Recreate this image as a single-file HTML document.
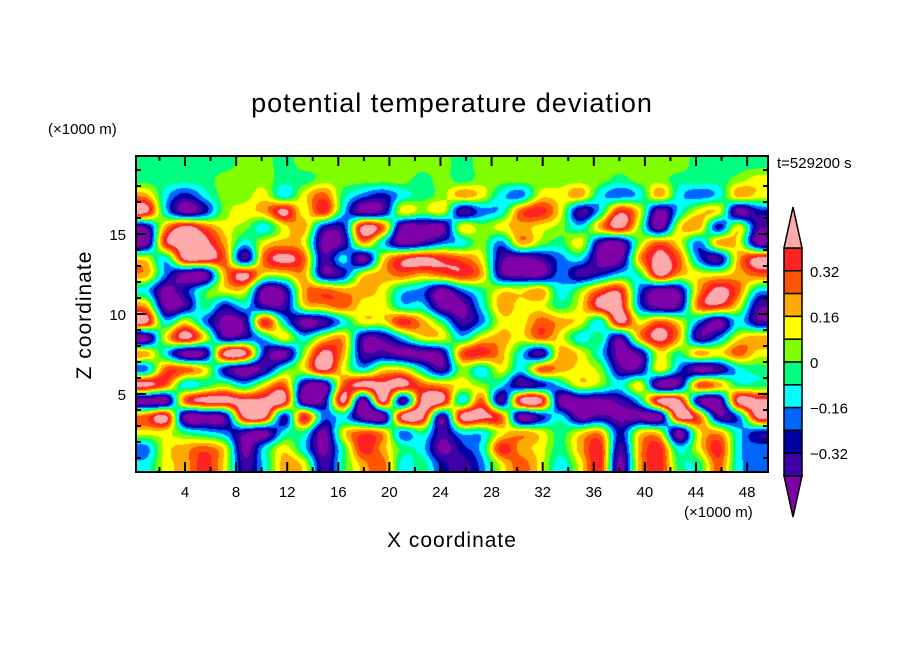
<!DOCTYPE html>
<html><head><meta charset="utf-8"><style>
html,body{margin:0;padding:0;background:#fff;}
#wrap{position:relative;width:904px;height:654px;overflow:hidden;font-family:"Liberation Sans","DejaVu Sans",sans-serif;}
svg text{font-family:"Liberation Sans","DejaVu Sans",sans-serif;}
</style></head><body>
<div id="wrap">
<canvas id="field" width="632" height="316" style="position:absolute;left:136px;top:156px;"></canvas>
<svg id="ov" width="904" height="654" style="position:absolute;left:0;top:0;"></svg>
</div>
<script>
// grid values: integer bin codes k, theta' = (k-0.5)*0.08 ; rows from top (z high) to bottom
const gridRows = [
[0,0,0,0,0,1,1,0,1,1,1,1,1,1,1,1, 0,1,1,1,1,1,1,1,1,1,1,1,0,0,0,0],
[0,0,0,0,1,1,1,0,0,1,1,1,1,1,0,1, 0,1,1,1,1,1,1,1,0,1,1,0,0,0,1,2],
[3,-1,-3,-1,1,1,2,-1,2,4,0,-2,-3,-1,0,1, 3,2,-1,-2,2,2,3,-1,-2,-1,3,-1,-2,-1,3,2],
[6,-1,-5,-3,1,2,3,6,2,5,-1,-5,-4,2,1,2, -4,-2,-1,4,5,2,-4,-1,5,2,-5,-1,2,2,-5,-3],
[-4,3,6,4,2,1,-1,2,3,-3,-3,6,4,-5,-5,-5, 2,1,2,3,2,1,-1,3,6,1,-5,2,3,-3,2,-4],
[-5,5,6,6,3,-1,2,3,2,-5,-4,3,-1,-5,-4,-2, -1,1,-2,3,1,0,2,-4,-5,1,4,2,-2,3,2,-5],
[2,-1,6,6,4,-4,4,6,4,-4,-1,-5,2,5,6,5, 4,2,-4,-5,-4,-2,-1,-5,-5,3,6,4,-2,-4,3,6],
[3,-2,-5,-5,3,6,2,2,3,-4,-3,2,3,4,3,4, 5,3,-4,-5,-5,-2,-4,-3,-1,0,6,3,2,2,3,4],
[-1,-5,-3,0,2,2,-5,-4,3,4,3,3,2,-1,-2,-5, -2,0,2,2,3,-1,1,4,5,-2,-5,-4,3,6,4,-1],
[3,-5,-4,0,-3,-1,-4,-4,2,3,4,2,2,-1,-1,-5, -5,-1,3,2,2,0,2,6,6,-2,-5,-4,4,5,2,-4],
[6,-1,2,-2,-5,-4,5,-1,-5,-4,-1,2,2,5,3,0, -4,-2,2,2,4,3,2,-1,6,2,4,2,-2,-5,-1,-4],
[-5,2,6,2,-4,-3,-1,2,-1,2,3,-4,-4,-1,2,2, -1,2,3,2,4,2,-1,0,-4,3,6,3,-4,-2,2,3],
[3,-1,-5,-4,6,6,-3,-5,1,6,3,-4,-4,-5,-5,-4, 4,5,3,-1,-4,3,2,-1,-5,-4,2,0,3,2,4,2],
[-2,4,4,2,-3,-5,-4,0,2,6,2,-1,2,2,-1,-4, 1,-1,2,-1,4,3,2,1,-4,-4,2,-2,-5,-4,-1,0],
[6,4,-1,0,1,-1,2,4,-4,-5,4,6,6,6,4,3, 2,1,-1,-4,-3,-1,2,1,-1,2,-5,-4,4,3,0,0],
[-5,-5,4,6,6,6,6,6,-5,-4,6,-5,6,-4,6,6, -1,4,-4,6,6,-5,-5,-5,-4,-1,6,6,-4,-5,6,6],
[4,6,-5,-5,-4,6,6,-3,5,-2,-1,-5,-5,6,6,-4, 6,6,4,-5,-3,-1,-5,-4,-5,-5,-5,6,4,-4,-2,6],
[2,2,0,-1,-2,-4,-5,-1,0,-5,2,4,3,-2,0,-4, -1,-1,2,3,2,0,2,3,-3,2,2,-5,2,3,-1,-3],
[-2,2,3,4,2,-5,-1,2,-1,-5,0,5,3,0,-1,-5, -3,-1,5,3,2,0,3,5,-4,3,5,-1,2,5,-1,-2],
[-1,2,3,5,2,-4,-1,3,2,-4,0,3,4,-1,0,-3, -4,-2,2,4,2,-1,2,5,-5,3,5,0,0,4,-1,-2]
];
const levelStep = 0.08;
const levelBounds = [-0.4,-0.32,-0.24,-0.16,-0.08,0,0.08,0.16,0.24,0.32,0.4];
const levelColors = ["#8000a8","#3c00a4","#0000a4","#0064ff","#00ffff","#00ff80","#80ff00","#ffff00","#ffaa00","#ff5500","#ff2222","#ffaaaa"];
const colorbarLabels = ["0.32","0.16","0","\u22120.16","\u22120.32"];
const colorbarLabelValues = [0.32,0.16,0,-0.16,-0.32];
const xTicks = [4,8,12,16,20,24,28,32,36,40,44,48];
const yTicks = [5,10,15];

const PX0=136, PX1=768, PY0=156, PY1=472;
function xs(v){return 133.9+v*12.775;}
function ys(v){return 474-v*16;}

// draw field (bicubic Catmull-Rom interpolation, discrete levels)
(function(){
 const cv=document.getElementById('field'),ctx=cv.getContext('2d');
 const W=cv.width,H=cv.height,R=gridRows.length,C=gridRows[0].length;
 const vals=gridRows.map(r=>r.map(k=>(k-0.5)*levelStep));
 const cw=W/C,ch=H/R;
 function g(r,c){r=Math.max(0,Math.min(R-1,r));c=Math.max(0,Math.min(C-1,c));return vals[r][c];}
 function cr(p0,p1,p2,p3,t){return 0.5*((2*p1)+(-p0+p2)*t+(2*p0-5*p1+4*p2-p3)*t*t+(-p0+3*p1-3*p2+p3)*t*t*t);}
 const img=ctx.createImageData(W,H);
 const rgb=levelColors.map(h=>[parseInt(h.substr(1,2),16),parseInt(h.substr(3,2),16),parseInt(h.substr(5,2),16)]);
 for(let py=0;py<H;py++){
  const gy=(py+0.5)/ch-0.5;const y1=Math.floor(gy),fy=gy-y1;
  for(let px=0;px<W;px++){
   const gx=(px+0.5)/cw-0.5;const x1=Math.floor(gx),fx=gx-x1;
   const rows=[];
   for(let j=-1;j<=2;j++){rows.push(cr(g(y1+j,x1-1),g(y1+j,x1),g(y1+j,x1+1),g(y1+j,x1+2),fx));}
   const v=cr(rows[0],rows[1],rows[2],rows[3],fy);
   let i=0;while(i<levelBounds.length&&v>=levelBounds[i])i++;
   const c=rgb[i],o=(py*W+px)*4;
   img.data[o]=c[0];img.data[o+1]=c[1];img.data[o+2]=c[2];img.data[o+3]=255;
  }
 }
 ctx.putImageData(img,0,0);
})();

const NS="http://www.w3.org/2000/svg";
const svg=document.getElementById('ov');
function mk(tag,attrs,parent){const e=document.createElementNS(NS,tag);for(const k in attrs)e.setAttribute(k,attrs[k]);(parent||svg).appendChild(e);return e;}
function txt(s,attrs){const e=mk('text',attrs);e.textContent=s;return e;}

let t;
t=txt("potential temperature deviation",{x:452,y:112,'font-size':27,'text-anchor':'middle',fill:'#000','letter-spacing':'1'});


t=txt("(\u00d71000 m)",{x:48,y:134,'font-size':15,fill:'#000'});


t=txt("(\u00d71000 m)",{x:684,y:517,'font-size':15,fill:'#000'});


t=txt("t=529200 s",{x:777,y:168,'font-size':15,fill:'#000'});


t=txt("X coordinate",{x:452,y:547,'font-size':21,'text-anchor':'middle',fill:'#000','letter-spacing':'1'});


t=txt("Z coordinate",{x:0,y:0,'font-size':21,'text-anchor':'middle',fill:'#000','letter-spacing':'1',transform:'translate(91,315) rotate(-90)'});



const fr=mk('rect',{x:PX0,y:PY0,width:PX1-PX0,height:PY1-PY0,fill:'none',stroke:'#000','stroke-width':2});



for(let v=2;v<=48;v+=2){
 const major=v%4===0,len=major?10:5,x=xs(v);
 const a=mk('line',{x1:x,y1:PY1,x2:x,y2:PY1-len,stroke:'#000','stroke-width':2});
 
 
 const b=mk('line',{x1:x,y1:PY0,x2:x,y2:PY0+len,stroke:'#000','stroke-width':2});
 
 
}
xTicks.forEach(v=>{
 const e=txt(String(v),{x:xs(v),y:497,'font-size':15,'text-anchor':'middle',fill:'#000'});
 
 
});
for(let v=1;v<=19;v++){
 const major=v%5===0,len=major?10:5,y=ys(v);
 const a=mk('line',{x1:PX0,y1:y,x2:PX0+len,y2:y,stroke:'#000','stroke-width':2});
 
 
 const b=mk('line',{x1:PX1,y1:y,x2:PX1-len,y2:y,stroke:'#000','stroke-width':2});
 
 
}
yTicks.forEach(v=>{
 const e=txt(String(v),{x:126,y:ys(v)+6,'font-size':15,'text-anchor':'end',fill:'#000'});
 
 
});

const CBX=784,CBW=18,CBTOP=248,CBBOT=476,nBox=levelColors.length-2,bh=(CBBOT-CBTOP)/nBox;
for(let i=0;i<nBox;i++){
 const colIdx=nBox-i;
 const r=mk('rect',{x:CBX,y:CBTOP+i*bh,width:CBW,height:bh,fill:levelColors[colIdx],stroke:'#000','stroke-width':1.5});
 
 
}
let p=mk('polygon',{points:`${CBX},${CBTOP} ${CBX+CBW},${CBTOP} ${CBX+CBW/2},207`,fill:levelColors[levelColors.length-1],stroke:'#000','stroke-width':1.5});


p=mk('polygon',{points:`${CBX},${CBBOT} ${CBX+CBW},${CBBOT} ${CBX+CBW/2},517`,fill:levelColors[0],stroke:'#000','stroke-width':1.5});


function cbY(v){return CBBOT-(v-levelBounds[0])/(levelBounds[levelBounds.length-1]-levelBounds[0])*(CBBOT-CBTOP);}
colorbarLabels.forEach((s,i)=>{
 const e=txt(s,{x:810,y:cbY(colorbarLabelValues[i])+6,'font-size':15,fill:'#000'});
 
 
});
</script>
</body></html>
